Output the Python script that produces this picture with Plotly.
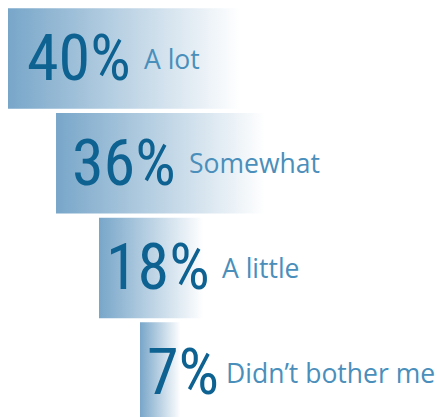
import plotly.graph_objects as go

# ---- data ----
categories = ["A lot", "Somewhat", "A little", "Didn\u2019t bother me"]
values = [40, 36, 18, 7]
pct_labels = ["40%", "36%", "18%", "7%"]

# ---- layout / style constants ----
bar_offsets = [0, 8.28, 15.69, 22.76]      # left start of each bar (axis units)
pct_shift_px = [17, 14, 5, 5]              # percent text offset from bar start
label_shift_px = [134, 131, 121, 84]       # category text offset from bar start
half_h = 0.48
dark = "#0d6291"
light = "#4a8fbb"
grad = [[0, "#78a6c9"], [1, "#ffffff"]]

fig = go.Figure()
for i, (cat, v) in enumerate(zip(categories, values)):
    b = bar_offsets[i]
    fig.add_trace(go.Scatter(
        x=[b, b + v, b + v, b, b],
        y=[i - half_h, i - half_h, i + half_h, i + half_h, i - half_h],
        mode="lines", fill="toself", line=dict(width=0),
        fillgradient=dict(type="horizontal", colorscale=grad),
        hoverinfo="skip", showlegend=False,
    ))
    fig.add_annotation(x=b, y=i, text=pct_labels[i], showarrow=False,
                       xanchor="left", yanchor="middle", xshift=pct_shift_px[i],
                       font=dict(family="Roboto Condensed, DejaVu Sans Condensed", size=64, color=dark))
    fig.add_annotation(x=b, y=i, text=cat, showarrow=False,
                       xanchor="left", yanchor="middle", xshift=label_shift_px[i],
                       font=dict(family="Open Sans", size=26.5, color=light))

fig.update_layout(
    width=437, height=417, margin=dict(l=0, r=0, t=0, b=0),
    paper_bgcolor="white", plot_bgcolor="white",
    xaxis=dict(range=[-1.379, 73.97], visible=False, fixedrange=True),
    yaxis=dict(range=[3.424, -0.559], visible=False, fixedrange=True),
)
fig.write_html("out.html", config={"displayModeBar": False},
               post_script="document.body.style.margin='0';")
